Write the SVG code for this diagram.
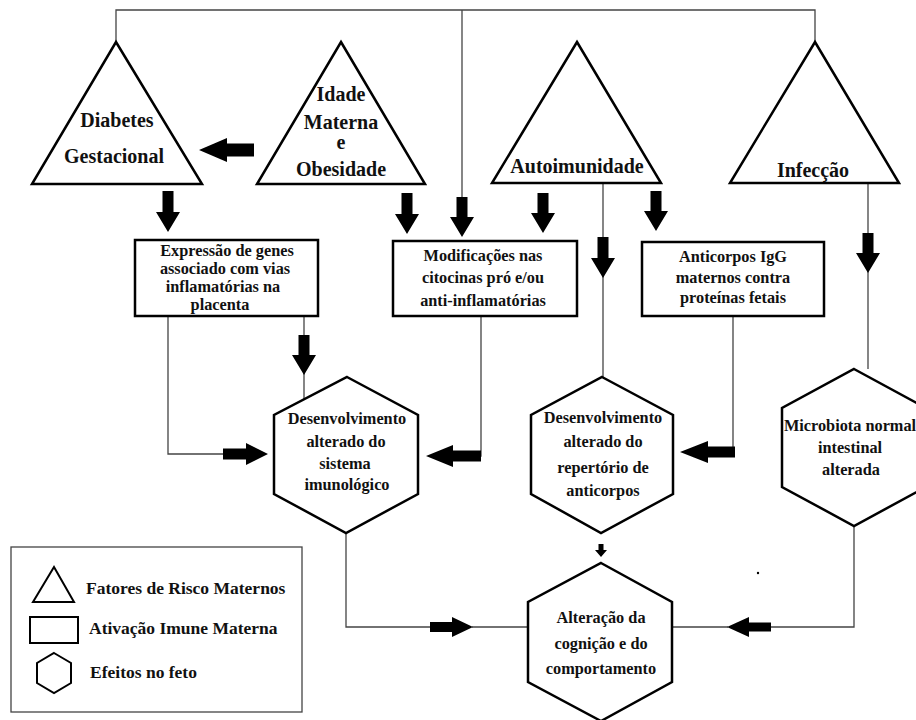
<svg xmlns="http://www.w3.org/2000/svg" width="916" height="720" viewBox="0 0 916 720">
<style>
.shape{fill:#fff;stroke:#000;stroke-width:2.5;stroke-linejoin:miter}
.lg{fill:#fff;stroke:#000;stroke-width:2}
.conn{fill:none;stroke:#444;stroke-width:1.3}
.arr{fill:#000;stroke:none}
.t20{font-family:"Liberation Serif","Times New Roman",serif;font-weight:bold;font-size:20px;fill:#111;text-anchor:middle}
.t16{font-family:"Liberation Serif","Times New Roman",serif;font-weight:bold;font-size:16.3px;fill:#111;text-anchor:middle}
.tl{font-family:"Liberation Serif","Times New Roman",serif;font-weight:bold;font-size:17.5px;fill:#111}
</style>
<rect width="916" height="720" fill="#fff"/>

<g id="connectors">
  <path class="conn" d="M116,42 V10 H815 V42"/>
  <path class="conn" d="M462,10 V200"/>
  <path class="conn" d="M603,184 V377"/>
  <path class="conn" d="M868,184 V369"/>
  <path class="conn" d="M168,316 V454 H224"/>
  <path class="conn" d="M304,316 V399"/>
  <path class="conn" d="M481,317 V456 H478"/>
  <path class="conn" d="M733,316 V452 H730"/>
  <path class="conn" d="M346,533 V627 H432 M472,627 H528"/>
  <path class="conn" d="M854,526 V627 H770 M728,627 H672"/>
  <polygon class="arr" points="254,143.5 227,143.5 227,138 199,150 227,162 227,156.5 254,156.5"/>
  <polygon class="arr" points="162.5,191 173.5,191 173.5,212 180,212 168,232 156,212 162.5,212"/>
  <polygon class="arr" points="401.5,193 412.5,193 412.5,214 419,214 407,234 395,214 401.5,214"/>
  <polygon class="arr" points="456.5,197 467.5,197 467.5,217 474,217 462,237 450,217 456.5,217"/>
  <polygon class="arr" points="537.5,193 548.5,193 548.5,213 555,213 543,233 531,213 537.5,213"/>
  <polygon class="arr" points="650.5,191 661.5,191 661.5,211 668,211 656,231 644,211 650.5,211"/>
  <polygon class="arr" points="597.5,237 608.5,237 608.5,258 615,258 603,278 591,258 597.5,258"/>
  <polygon class="arr" points="862.5,233 873.5,233 873.5,253 880,253 868,273 856,253 862.5,253"/>
  <polygon class="arr" points="298.5,335 309.5,335 309.5,355 316,355 304,375 292,355 298.5,355"/>
  <polygon class="arr" points="223,448.5 246,448.5 246,443 268,454 246,465 246,459.5 223,459.5"/>
  <polygon class="arr" points="481,450.5 453,450.5 453,445 426,456 453,467 453,461.5 481,461.5"/>
  <polygon class="arr" points="735,446.5 708,446.5 708,441 680,452 708,463 708,457.5 735,457.5"/>
  <polygon class="arr" points="430,622 452,622 452,617 473,627 452,637 452,632 430,632"/>
  <polygon class="arr" points="771,622.5 749,622.5 749,617 727,627 749,637 749,631.5 771,631.5"/>
  <polygon class="arr" points="598.5,544 603.5,544 603.5,550 607,550 601,557 595,550 598.5,550"/>
  <circle cx="758" cy="573" r="1.2" fill="#000"/>
</g>

<g id="diabetes">
  <polygon class="shape" points="116,42 202,184 32,184"/>
  <text class="t20" x="117" y="127">Diabetes</text>
  <text class="t20" x="114" y="163">Gestacional</text>
</g>
<g id="idade">
  <polygon class="shape" points="341,42 425,184 257,184"/>
  <text class="t20" x="341" y="101">Idade</text>
  <text class="t20" x="341" y="129">Materna</text>
  <text class="t20" x="341" y="149">e</text>
  <text class="t20" x="341" y="176">Obesidade</text>
</g>
<g id="autoimunidade">
  <polygon class="shape" points="577,42 661,183 492,183"/>
  <text class="t20" x="577" y="173">Autoimunidade</text>
</g>
<g id="infeccao">
  <polygon class="shape" points="815,42 899,183 730,183"/>
  <text class="t20" x="813" y="177">Infecção</text>
</g>

<g id="expressao">
  <rect class="shape" x="135" y="240" width="183" height="76"/>
  <text class="t16" x="227" y="256">Expressão de genes</text>
  <text class="t16" x="225" y="274">associado com vias</text>
  <text class="t16" x="223" y="292">inflamatórias na</text>
  <text class="t16" x="220" y="310">placenta</text>
</g>
<g id="modificacoes">
  <rect class="shape" x="393" y="241" width="184" height="75"/>
  <text class="t16" x="483" y="261">Modificações nas</text>
  <text class="t16" x="483" y="283">citocinas pró e/ou</text>
  <text class="t16" x="483" y="306">anti-inflamatórias</text>
</g>
<g id="anticorpos">
  <rect class="shape" x="642" y="242" width="182" height="74"/>
  <text class="t16" x="733" y="262">Anticorpos IgG</text>
  <text class="t16" x="733" y="283">maternos contra</text>
  <text class="t16" x="733" y="303">proteínas fetais</text>
</g>

<g id="hex-imuno">
  <polygon class="shape" points="347,377 418,415 418,494 346,533 274,494 274,415"/>
  <text class="t16" x="347" y="424">Desenvolvimento</text>
  <text class="t16" x="346" y="447">alterado do</text>
  <text class="t16" x="345" y="469">sistema</text>
  <text class="t16" x="347" y="490">imunológico</text>
</g>
<g id="hex-anticorpos">
  <polygon class="shape" points="602,377 673,415 673,494 601,533 531,494 531,415"/>
  <text class="t16" x="603" y="423">Desenvolvimento</text>
  <text class="t16" x="603" y="447">alterado do</text>
  <text class="t16" x="603" y="473">repertório de</text>
  <text class="t16" x="603" y="496">anticorpos</text>
</g>
<g id="hex-microbiota">
  <polygon class="shape" points="854,369 926,408 926,487 854,526 782,487 782,408"/>
  <text class="t16" x="850" y="431">Microbiota normal</text>
  <text class="t16" x="850" y="453">intestinal</text>
  <text class="t16" x="851" y="475">alterada</text>
</g>
<g id="hex-cognicao">
  <polygon class="shape" points="601,563 672,602 672,682 601,721 528,682 528,602"/>
  <text class="t16" x="601" y="623">Alteração da</text>
  <text class="t16" x="601" y="649">cognição e do</text>
  <text class="t16" x="601" y="674">comportamento</text>
</g>

<g id="legend">
  <rect x="11" y="547" width="291" height="165" fill="#fff" stroke="#444" stroke-width="1.3"/>
  <polygon class="lg" points="54,567 74,602 33,602"/>
  <text class="tl" x="86" y="594">Fatores de Risco Maternos</text>
  <rect class="lg" x="30" y="617" width="48" height="26"/>
  <text class="tl" x="89" y="634">Ativação Imune Materna</text>
  <polygon class="lg" points="54,653 71,663 71,683 54,693 37,683 37,663"/>
  <text class="tl" x="90" y="678">Efeitos no feto</text>
</g>
</svg>
